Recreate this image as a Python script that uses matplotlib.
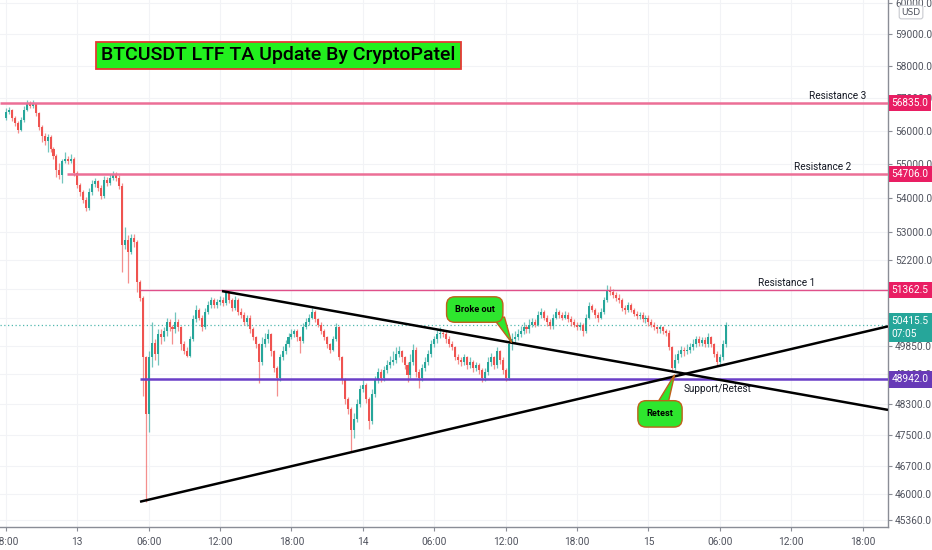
import numpy as np
import matplotlib
matplotlib.use("Agg")
from matplotlib import pyplot as plt
from matplotlib import transforms
from matplotlib.patches import Polygon
from matplotlib.ticker import FixedLocator, NullLocator

plt.rcParams['font.family'] = ['DejaVu Sans']

# 15 minute candles, hours counted from 13th 00:00
start_hour = -6.0
step_hour = 0.25
first_open = 56390

closes = [
    56570, 56630, 56390, 56240, 56030, 56330, 56630, 56840, 56750, 56810,
    56540, 56120, 55820, 55670, 55790, 55430, 55220, 54830, 54680, 55070,
    55130, 55070, 55130, 54740, 54380, 54170, 53930, 53700, 54170, 54410,
    54500, 54290, 54050, 54530, 54440, 54590, 54710, 54590, 54350, 52650,
    52790, 52450, 52850, 52710, 51600, 51150, 49530, 48040, 49550, 49930,
    49610, 50150, 50070, 50230, 50500, 50340, 50290, 50500, 50340, 49880,
    49690, 49580, 50020, 50560, 50830, 50610, 50340, 50770, 50960, 51100,
    50960, 51040, 51100, 51020, 51290, 51100, 50880, 51100, 50770, 50690,
    50500, 50610, 50290, 50070, 49880, 49420, 49880, 50020, 50150, 49690,
    49260, 48990, 49530, 49690, 49880, 50070, 50150, 50230, 50070, 49960,
    50340, 50500, 50610, 50770, 50560, 50420, 50230, 50070, 49880, 49740,
    50020, 50340, 49530, 48930, 48420, 48170, 47610, 47910, 48300, 48680,
    48800, 48420, 47860, 48550, 48930, 49150, 48990, 49200, 49340, 49420,
    49470, 49610, 49690, 49530, 49340, 49070, 49420, 49740, 49150, 48990,
    49260, 49420, 49610, 49880, 50020, 50150, 50200, 50150, 50020, 49880,
    49800, 49530, 49470, 49420, 49530, 49340, 49420, 49260, 49340, 49200,
    48990, 49150, 49420, 49530, 49340, 49690, 49470, 49200, 48990, 49880,
    50020, 50070, 50150, 50230, 50340, 50290, 50420, 50500, 50420, 50690,
    50770, 50610, 50500, 50390, 50610, 50770, 50690, 50610, 50690, 50560,
    50500, 50420, 50340, 50420, 50230, 50610, 50930, 50830, 50690, 50610,
    50770, 51100, 51370, 51320, 51240, 51150, 51100, 50880, 50830, 50960,
    50830, 50720, 50640, 50690, 50560, 50610, 50480, 50420, 50340, 50290,
    50340, 50230, 50200, 49800, 49260, 49470, 49610, 49740, 49690, 49740,
    49800, 49880, 50020, 49930, 49990, 49880, 50070, 49880, 49610, 49420,
    49530, 49880, 50415.5,
]

highs = [
    56690, 56720, 56660, 56450, 56300, 56420, 56750, 56930, 56900, 56930,
    56840, 56570, 56180, 55910, 55880, 55850, 55490, 55280, 55010, 55130,
    55340, 55220, 55280, 55190, 54800, 54440, 54230, 54020, 54290, 54530,
    54590, 54530, 54380, 54650, 54620, 54710, 54800, 54770, 54680, 54440,
    53160, 52910, 52960, 52940, 52790, 51660, 51210, 49580, 49690, 50500,
    50020, 50290, 50290, 50340, 50610, 50580, 50420, 50750, 50560, 50390,
    49960, 49800, 50120, 50670, 50960, 50880, 50690, 50880, 51070, 51180,
    51150, 51130, 51210, 51180, 51370, 51320, 51150, 51210, 51150, 50880,
    50770, 50690, 50670, 50340, 50120, 49930, 50070, 50180, 50290, 50200,
    49740, 49310, 49630, 49850, 49990, 50200, 50290, 50310, 50290, 50120,
    50450, 50610, 50720, 50860, 50830, 50610, 50480, 50290, 50120, 49930,
    50120, 50450, 50390, 49580, 48990, 48470, 48220, 48070, 48420, 48800,
    48930, 48850, 48470, 48680, 49040, 49260, 49230, 49310, 49470, 49580,
    49690, 49800, 49850, 49740, 49580, 49420, 49610, 49880, 49800, 49230,
    49360, 49550, 49740, 49990, 50120, 50260, 50340, 50290, 50260, 50100,
    49960, 49850, 49630, 49550, 49610, 49580, 49530, 49470, 49420, 49390,
    49260, 49260, 49550, 49660, 49580, 49800, 49740, 49530, 49260, 50020,
    50200, 50230, 50290, 50370, 50480, 50420, 50560, 50610, 50580, 50800,
    50860, 50830, 50690, 50580, 50720, 50860, 50830, 50770, 50800, 50750,
    50640, 50580, 50500, 50500, 50450, 50720, 51040, 50990, 50880, 50770,
    50880, 51180, 51510, 51480, 51400, 51320, 51260, 51150, 50960, 51040,
    51020, 50880, 50800, 50770, 50750, 50690, 50670, 50560, 50480, 50390,
    50420, 50390, 50310, 50260, 49850, 49610, 49740, 49850, 49820, 49880,
    49930, 50020, 50120, 50100, 50070, 50070, 50200, 50120, 49930, 49690,
    49630, 49990, 50480,
]

lows = [
    56330, 56510, 56300, 56150, 55910, 55970, 56270, 56600, 56690, 56690,
    56450, 56030, 55640, 55550, 55340, 55340, 55130, 54620, 54560, 54440,
    55010, 54980, 55010, 54650, 54290, 54050, 53850, 53620, 53650, 54080,
    54320, 54200, 53960, 53990, 54350, 54380, 54530, 54500, 54260, 51860,
    52510, 51570, 52370, 52570, 51320, 51070, 48500, 45810, 47580, 49280,
    49470, 49340, 49880, 49960, 50120, 50230, 49880, 50200, 50230, 49740,
    49610, 49530, 49530, 49960, 50500, 50530, 50230, 50290, 50720, 50880,
    50880, 50880, 50960, 50930, 50960, 51020, 50800, 50830, 50690, 50610,
    50420, 50390, 50200, 49990, 49770, 48850, 49340, 49800, 49930, 49580,
    49150, 48500, 48900, 49470, 49610, 49820, 50020, 50070, 49960, 49660,
    49910, 50290, 50420, 50560, 50480, 50340, 50150, 49990, 49770, 49660,
    49690, 49960, 49450, 48830, 48300, 48040, 47080, 47410, 47840, 48220,
    48600, 48320, 47660, 47790, 48470, 48850, 48880, 48900, 49120, 49260,
    49340, 49390, 49530, 49420, 49230, 48880, 48990, 49340, 49010, 48730,
    48900, 49180, 49340, 49530, 49800, 49930, 50040, 50070, 49930, 49800,
    49720, 49450, 49360, 49310, 49340, 49230, 49260, 49150, 49180, 49090,
    48880, 48900, 49070, 49310, 49230, 49260, 49360, 49090, 48900, 48930,
    49740, 49910, 49990, 50070, 50150, 50180, 50200, 50340, 50340, 50370,
    50610, 50530, 50390, 50310, 50310, 50560, 50610, 50530, 50560, 50480,
    50390, 50340, 50260, 50260, 50120, 50180, 50560, 50750, 50610, 50500,
    50560, 50720, 51040, 51240, 51150, 51070, 51020, 50800, 50720, 50750,
    50750, 50640, 50560, 50560, 50480, 50450, 50390, 50340, 50260, 50180,
    50200, 50150, 50100, 49720, 49150, 49200, 49390, 49530, 49580, 49610,
    49660, 49720, 49800, 49850, 49850, 49800, 49800, 49800, 49530, 49310,
    49340, 49450, 49800,
]

x_ticks = [-6, 0, 6, 12, 18, 24, 30, 36, 42, 48, 54, 60, 66]
x_labels = ['18:00', '13', '06:00', '12:00', '18:00', '14', '06:00', '12:00',
            '18:00', '15', '06:00', '12:00', '18:00']
price_ticks = [60000, 59000, 58000, 57000, 56000, 55000, 54000, 53000, 52200,
               51400, 50600, 49850, 49100, 48300, 47500, 46700, 46000, 45360]

resistance_3 = 56835.0
resistance_2 = 54706.0
resistance_1 = 51362.5
support = 48942.0
last_price = 50415.5

# trendlines (hour, price)
upper_line = ([12.16, 68.13], [51340, 48144])
lower_line = ([5.27, 68.13], [45810, 50370])

UP = '#26a69a'
DOWN = '#ef5350'
PINK = '#ec6f96'
PINK_DARK = '#e91e63'
PURPLE = '#673ab7'

fig = plt.figure(figsize=(9.32, 5.5), dpi=100)
ax = fig.add_axes([0, 1 - 527 / 550, 888 / 932, 527 / 550])
ax.set_yscale('log')
ax.set_xlim(-6.496, 68.13)
ax.set_ylim(45188, 60097)

# grid
for h in x_ticks:
    ax.axvline(h, color='#f2f3f6', lw=0.8, zorder=0)
for p in price_ticks:
    ax.axhline(p, color='#f2f3f6', lw=0.8, zorder=0)

# candles
c = np.array(closes, dtype=float)
o = np.r_[first_open, c[:-1]]
hi = np.maximum(np.array(highs, dtype=float), np.maximum(o, c))
lo = np.minimum(np.array(lows, dtype=float), np.minimum(o, c))
t = start_hour + step_hour * np.arange(len(c))
up = c >= o
cols = np.where(up, UP, DOWN)
ax.vlines(t, lo, hi, colors=cols, lw=0.9, alpha=0.65, zorder=2)
ax.bar(t, np.maximum(np.abs(c - o), 12), bottom=np.minimum(o, c), width=0.17,
       color=cols, lw=0, zorder=3)

# horizontal levels
ax.axhline(last_price, color=UP, lw=0.9, ls=(0, (1, 2)), alpha=0.8, zorder=1)
ax.hlines(resistance_3, -6.5, 68.2, color=PINK, lw=1.8, zorder=4)
ax.hlines(resistance_2, -0.87, 68.2, color=PINK, lw=1.8, zorder=4)
ax.hlines(resistance_1, 5.27, 68.2, color='#e0508a', lw=1.0, zorder=4)
ax.hlines(support, 5.27, 68.2, color='#6a3fc8', lw=1.8, zorder=4)

# trendlines
ax.plot(*upper_line, color='black', lw=1.8, zorder=5, solid_capstyle='butt')
ax.plot(*lower_line, color='black', lw=1.8, zorder=5, solid_capstyle='butt')

# level captions
lab_font = dict(family=['Liberation Sans Narrow', 'Roboto', 'DejaVu Sans'],
                fontsize=7.2, color='#131722', zorder=6)
up_off = transforms.offset_copy(ax.transData, fig=fig, y=1.5, units='points')
dn_off = transforms.offset_copy(ax.transData, fig=fig, y=-3, units='points')
ax.text(63.86, resistance_3, 'Resistance 3', ha='center', va='bottom', transform=up_off, **lab_font)
ax.text(62.6, resistance_2, 'Resistance 2', ha='center', va='bottom', transform=up_off, **lab_font)
ax.text(59.63, resistance_1, 'Resistance 1', ha='center', va='bottom', transform=up_off, **lab_font)
ax.text(53.84, support, 'Support/Retest', ha='center', va='top', transform=dn_off, **lab_font)

# title box
ax.text(0.3136, 0.8947, 'BTCUSDT LTF TA Update By CryptoPatel', transform=ax.transAxes,
        ha='center', va='center', fontsize=14, family=['Roboto', 'DejaVu Sans'],
        fontweight='medium', color='black', zorder=7,
        bbox=dict(boxstyle='square,pad=0.25', fc='#22f01e', ec='#e53935', lw=1.3))

# callouts
call_green = '#2ee62e'
call_edge = '#c0601a'
tail1 = Polygon([(34.9, 50620), (35.9, 50620), (36.5, 49930)], closed=True,
                fc=call_green, ec=call_edge, lw=1.0, zorder=7)
ax.add_patch(tail1)
ax.text(33.4, 50830, 'Broke out', ha='center', va='center', fontsize=6.6,
        family=['Roboto', 'DejaVu Sans'], fontweight='bold', zorder=8,
        bbox=dict(boxstyle='round,pad=0.9,rounding_size=0.9', fc=call_green, ec=call_edge, lw=1.0))
tail2 = Polygon([(48.6, 48250), (49.6, 48250), (50.2, 49070)], closed=True,
                fc=call_green, ec=call_edge, lw=1.0, zorder=7)
ax.add_patch(tail2)
ax.text(48.97, 48040, 'Retest', ha='center', va='center', fontsize=6.6,
        family=['Roboto', 'DejaVu Sans'], fontweight='bold', zorder=8,
        bbox=dict(boxstyle='round,pad=0.95,rounding_size=0.9', fc=call_green, ec=call_edge, lw=1.0))

# axes styling
for s in ['top', 'left']:
    ax.spines[s].set_visible(False)
for s in ['right', 'bottom']:
    ax.spines[s].set_color('#8a8d96')
    ax.spines[s].set_linewidth(1.0)
ax.yaxis.tick_right()
ax.yaxis.set_major_locator(FixedLocator(price_ticks))
ax.yaxis.set_minor_locator(NullLocator())
ax.set_yticklabels(['%.1f' % p for p in price_ticks])
ax.set_xticks(x_ticks)
ax.set_xticklabels(x_labels)
ax.tick_params(axis='both', colors='#8a8d96', labelcolor='#50535e', labelsize=7.3,
               length=3, width=0.8)
ax.tick_params(axis='y', pad=2)
ax.tick_params(axis='x', pad=4)
for lbl in ax.get_xticklabels() + ax.get_yticklabels():
    lbl.set_family(['Liberation Sans Narrow', 'Roboto', 'DejaVu Sans'])

# price tags on the scale
tag_tr = transforms.blended_transform_factory(ax.transAxes, ax.transData)
for price, col in [(resistance_3, PINK_DARK), (resistance_2, PINK_DARK),
                   (resistance_1, PINK_DARK), (support, PURPLE)]:
    ax.text(1.004, price, '%.1f' % price, transform=tag_tr, ha='left', va='center',
            color='white', fontsize=7.3, family=['Liberation Sans Narrow', 'Roboto', 'DejaVu Sans'],
            clip_on=False, zorder=10,
            bbox=dict(boxstyle='square,pad=0.3', fc=col, ec='none'))
last_tr = transforms.offset_copy(tag_tr, fig=fig, y=6, units='points')
ax.text(1.004, last_price, '%.1f\n07:05' % last_price, transform=last_tr, ha='left', va='top',
        color='white', fontsize=7.3, linespacing=1.3,
        family=['Liberation Sans Narrow', 'Roboto', 'DejaVu Sans'],
        clip_on=False, zorder=10, bbox=dict(boxstyle='square,pad=0.3', fc=UP, ec='none'))

fig.text(0.9775, 0.978, 'USD', ha='center', va='center', fontsize=6.5, color='#50535e',
         bbox=dict(boxstyle='round,pad=0.25', fc='white', ec='#c8cad0', lw=0.8))

fig.savefig('out.png', dpi=100, facecolor='white')
